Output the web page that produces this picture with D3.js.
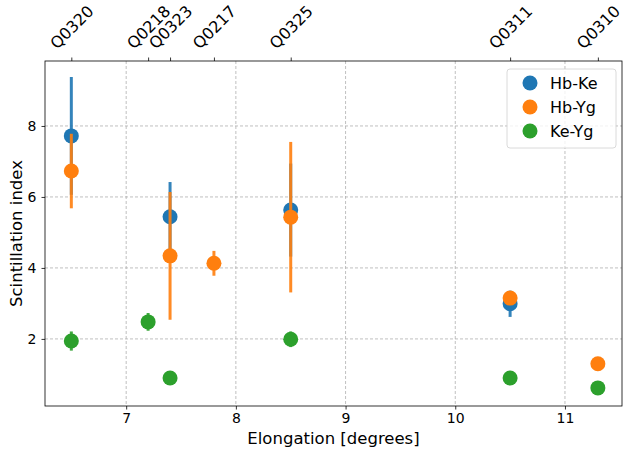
<!DOCTYPE html>
<html>
<head>
<meta charset="utf-8">
<script src="https://cdn.jsdelivr.net/npm/d3@7"></script>
<style>
  body { margin: 0; background: #fff; }
  svg { font-family: "DejaVu Sans", sans-serif; }
</style>
</head>
<body>
<svg width="623" height="450"></svg>
<script>
// observation labels on the top axis
const obsNames = ["Q0320", "Q0218", "Q0323", "Q0217", "Q0325", "Q0311", "Q0310"];
const obsElong = [6.5, 7.2, 7.4, 7.8, 8.5, 10.5, 11.3];

const seriesNames = ["Hb-Ke", "Hb-Yg", "Ke-Yg"];
const seriesColors = ["#1f77b4", "#ff7f0e", "#2ca02c"];

// [elongation, index, error]
const hbKe = [[6.5, 7.72, 1.66], [7.4, 5.44, 0.98], [8.5, 5.63, 1.31], [10.5, 2.99, 0.37]];
const hbYg = [[6.5, 6.73, 1.05], [7.4, 4.34, 1.8], [7.8, 4.13, 0.35], [8.5, 5.43, 2.12], [10.5, 3.15, 0.1], [11.3, 1.3, 0.05]];
const keYg = [[6.5, 1.94, 0.27], [7.2, 2.48, 0.25], [7.4, 0.9, 0.05], [8.5, 1.99, 0.22], [10.5, 0.9, 0.05], [11.3, 0.62, 0.03]];

const xTicks = [7, 8, 9, 10, 11];
const yTicks = [2, 4, 6, 8];

const svg = d3.select("svg");
const margin = { top: 61, left: 45, right: 1, bottom: 44 };
const width = 623 - margin.left - margin.right,
  height = 450 - margin.top - margin.bottom;

const g = svg.append("g").attr("transform", `translate(${margin.left},${margin.top})`);

const x = d3.scaleLinear().domain([6.26, 11.52]).range([0, width]);
const y = d3.scaleLinear().domain([0.11, 9.83]).range([height, 0]);

// grid
g.append("g")
  .selectAll("line")
  .data(xTicks)
  .join("line")
  .attr("x1", (d) => x(d)).attr("x2", (d) => x(d))
  .attr("y1", 0).attr("y2", height)
  .attr("stroke", "#b0b0b0").attr("stroke-width", 0.8).attr("stroke-dasharray", "3,2");
g.append("g")
  .selectAll("line")
  .data(yTicks)
  .join("line")
  .attr("y1", (d) => y(d)).attr("y2", (d) => y(d))
  .attr("x1", 0).attr("x2", width)
  .attr("stroke", "#b0b0b0").attr("stroke-width", 0.8).attr("stroke-dasharray", "3,2");

// axes
const styleAxis = (sel) => {
  sel.select(".domain").remove();
  sel.selectAll("line").attr("stroke", "#000").attr("stroke-width", 0.8);
  sel.selectAll("text").attr("font-size", 14).attr("fill", "#000").attr("font-family", "DejaVu Sans");
};
g.append("g")
  .attr("transform", `translate(0,${height})`)
  .call(d3.axisBottom(x).tickValues(xTicks).tickSize(3.5).tickPadding(4).tickFormat(d3.format("d")))
  .call(styleAxis);
g.append("g")
  .call(d3.axisLeft(y).tickValues(yTicks).tickSize(3.5).tickPadding(5).tickFormat(d3.format("d")))
  .call(styleAxis);

// top axis with rotated labels
const topAx = g.append("g")
  .call(d3.axisTop(x).tickValues(obsElong).tickSize(3.5).tickFormat((d, i) => obsNames[i]))
  .call(styleAxis);
topAx.selectAll("text").attr("font-size", 16).each(function () {
  const t = d3.select(this);
  const w = this.getComputedTextLength();
  const h = 14;
  const half = (w + h) / (2 * Math.SQRT2);
  t.attr("y", null).attr("dy", "0.35em")
    .attr("text-anchor", "middle")
    .attr("transform", `translate(0,${-10 - half}) rotate(-45)`);
});

// frame
g.append("rect")
  .attr("width", width).attr("height", height)
  .attr("fill", "none").attr("stroke", "#000").attr("stroke-width", 0.8);

// series
const plotG = g.append("g");
[hbKe, hbYg, keYg].forEach((data, i) => {
  const c = seriesColors[i];
  const sg = plotG.append("g");
  sg.selectAll("line")
    .data(data)
    .join("line")
    .attr("x1", (d) => x(d[0])).attr("x2", (d) => x(d[0]))
    .attr("y1", (d) => y(d[1] - d[2])).attr("y2", (d) => y(d[1] + d[2]))
    .attr("stroke", c).attr("stroke-width", 3).attr("opacity", 0.9);
  sg.selectAll("circle")
    .data(data)
    .join("circle")
    .attr("cx", (d) => x(d[0])).attr("cy", (d) => y(d[1]))
    .attr("r", 7.5).attr("fill", c);
});

// axis labels
svg.append("text")
  .attr("x", margin.left + width / 2).attr("y", 444)
  .attr("text-anchor", "middle").attr("font-size", 16.5)
  .text("Elongation [degrees]");
svg.append("text")
  .attr("transform", `translate(22,${margin.top + height / 2}) rotate(-90)`)
  .attr("text-anchor", "middle").attr("font-size", 16.5)
  .text("Scintillation index");

// legend
const lg = svg.append("g").attr("transform", "translate(507,69)");
lg.append("rect")
  .attr("width", 109).attr("height", 79).attr("rx", 3)
  .attr("fill", "#fff").attr("fill-opacity", 0.8)
  .attr("stroke", "#d0d0d0").attr("stroke-width", 0.8);
seriesNames.forEach((name, i) => {
  const row = lg.append("g").attr("transform", `translate(0,${14 + i * 24})`);
  row.append("circle").attr("cx", 23).attr("cy", 0).attr("r", 7.5).attr("fill", seriesColors[i]);
  row.append("text").attr("x", 43).attr("y", 0).attr("dy", "0.35em")
    .attr("font-size", 16).text(name);
});
</script>
</body>
</html>
